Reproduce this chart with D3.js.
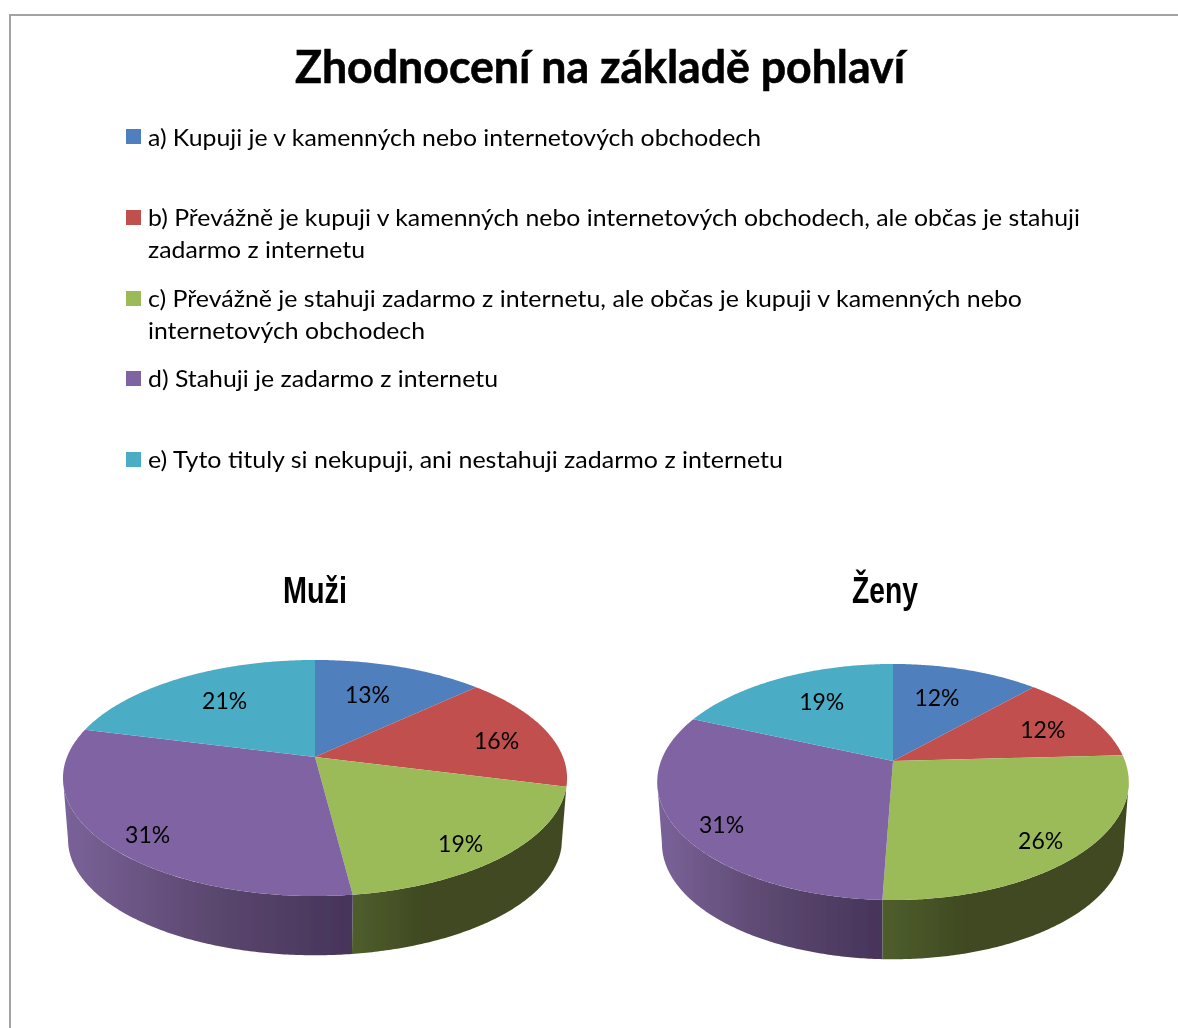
<!DOCTYPE html>
<html><head><meta charset="utf-8">
<script src="https://cdnjs.cloudflare.com/ajax/libs/d3/7.8.5/d3.min.js"></script>
<style>html,body{margin:0;padding:0;background:#fff;overflow:hidden}svg{display:block}text{fill:#000}</style>
</head><body><svg id="c" width="1178" height="1028"></svg>
<script>
const chartTitle = "Zhodnocení na základě pohlaví";
const categories = ["a","b","c","d","e"];
const legendLines = [
  ["a) Kupuji je v kamenných nebo internetových obchodech"],
  ["b) Převážně je kupuji v kamenných nebo internetových obchodech, ale občas je stahuji","zadarmo z internetu"],
  ["c) Převážně je stahuji zadarmo z internetu, ale občas je kupuji v kamenných nebo","internetových obchodech"],
  ["d) Stahuji je zadarmo z internetu"],
  ["e) Tyto tituly si nekupuji, ani nestahuji zadarmo z internetu"]
];
const pieTitles = ["Muži","Ženy"];
const muziValues = [13,16,19,31,21];
const zenyValues = [12,12.2,26.4,30.8,18.6];

const colors = ["#4f7fbc","#c0504d","#9bbb59","#8064a2","#4bacc6"];
const wallStops = [
  ["#2f4b70","#2f4b70"],["#6e2c2a","#6e2c2a"],
  ["#3f4a22","#3f4a22","#3f4a22","#4f5e2c"],
  ["#46345a","#5c4870","#7a6399"],
  ["#2a6272","#2a6272"]
];
const legendWidths = [[613],[932,217],[874,277],[350],[635]];
const legendBase = [[146],[226,258],[307,339],[387],[468]];
const swatchTop = [129,210,291,371,452];
const svg = d3.select("#c");
const defs = svg.append("defs");
defs.append("filter").attr("id","soft").append("feGaussianBlur").attr("stdDeviation",0.55);
defs.append("filter").attr("id","softT").append("feGaussianBlur").attr("stdDeviation",0.3);

// frame
svg.append("path").attr("d",d3.line()([[1178,15],[10,15],[10,1028]])).attr("fill","none").attr("stroke","#a3a3a3").attr("stroke-width",2);

const FONT = "Lato, 'Open Sans', sans-serif";
svg.append("text").text(chartTitle).attr("x",295).attr("y",83).attr("font-family",FONT)
  .attr("font-weight",700).attr("font-size",45).attr("textLength",610).attr("lengthAdjust","spacingAndGlyphs")
  .attr("stroke","#000").attr("stroke-width",0.6).attr("filter","url(#softT)");

const legend = svg.append("g");
categories.forEach((c,i)=>{
  legend.append("rect").attr("x",126).attr("y",swatchTop[i]).attr("width",15).attr("height",15).attr("fill",colors[i]);
  legendLines[i].forEach((line,j)=>{
    legend.append("text").text(line).attr("x",148).attr("y",legendBase[i][j]).attr("font-family",FONT)
      .attr("font-size",24).attr("textLength",legendWidths[i][j]).attr("lengthAdjust","spacingAndGlyphs").attr("filter","url(#softT)");
  });
});

// 3-D perspective pie built on d3.pie angles
const K = 0.178;
const SIDE = Math.acos(-K);               // angle where the rim is widest on screen
const pieGen = d3.pie().sort(null).startAngle(0).endAngle(2*Math.PI);
const lineGen = d3.line();
function drawPie(values, title, cfg, idx){
  const proj = (t,r=1,s=1,oy=0)=>{
    const u=Math.sin(t)*r, v=-Math.cos(t)*r, w=1-K*v;
    return [cfg.cx+cfg.A*s*u/w, cfg.cy+oy+cfg.B*s*v/w];
  };
  const rim = (a,b,s=1,oy=0)=>{
    const n=Math.max(2,Math.ceil((b-a)/0.01));
    return d3.range(n+1).map(i=>proj(a+(b-a)*i/n,1,s,oy));
  };
  const arcs = pieGen(values);
  const g = svg.append("g").attr("filter","url(#soft)");
  // walls – visible arc only, between the two widest rim points
  arcs.forEach((d,i)=>{
    const a=Math.max(d.startAngle,SIDE), b=Math.min(d.endAngle,2*Math.PI-SIDE);
    if(b<=a) return;
    const top=rim(a,b), bot=rim(a,b,cfg.S,cfg.depth);
    const xs=top.map(p=>p[0]).concat(bot.map(p=>p[0]));
    const id=`w${idx}_${i}`;
    const gr=defs.append("linearGradient").attr("id",id).attr("gradientUnits","userSpaceOnUse")
      .attr("x1",d3.min(xs)).attr("x2",d3.max(xs)).attr("y1",0).attr("y2",0);
    let stops=wallStops[i].slice().reverse();
    stops.forEach((c,k)=>gr.append("stop").attr("offset",k/(stops.length-1)).attr("stop-color",c));
    g.append("path").attr("d",lineGen(top.concat(bot.reverse()))+"Z").attr("fill",`url(#${id})`);
  });
  // top faces
  arcs.forEach((d,i)=>{
    g.append("path").attr("d",lineGen([[cfg.cx,cfg.cy]].concat(rim(d.startAngle,d.endAngle)))+"Z").attr("fill",colors[i]);
  });
  // labels
  arcs.forEach((d,i)=>{
    const mid=(d.startAngle+d.endAngle)/2, p=proj(mid,0.72);
    svg.append("text").text(Math.round(values[i])+"%")
      .attr("x",p[0]+cfg.nudge[i][0]).attr("y",p[1]+cfg.nudge[i][1]+8)
      .attr("text-anchor","middle").attr("font-family",FONT).attr("font-size",cfg.fs).attr("filter","url(#softT)");
  });
  svg.append("text").text(title).attr("x",cfg.tx).attr("y",603).attr("font-family","'Liberation Sans Narrow','Liberation Sans',sans-serif")
    .attr("font-weight",700).attr("font-size",36).attr("textLength",cfg.tw).attr("lengthAdjust","spacingAndGlyphs").attr("filter","url(#softT)");
}
drawPie(muziValues,pieTitles[0],{cx:315,cy:757,A:248,B:114.3,S:0.98,depth:62,fs:23,tx:283,tw:64,
  nudge:[[-11,6],[14,4],[15,19],[-21,19],[9,3]]},0);
drawPie(zenyValues,pieTitles[1],{cx:893,cy:761,A:232,B:114.3,S:0.98,depth:62,fs:23,tx:852,tw:66,
  nudge:[[-11,5],[6,2],[17,16],[-20,17],[12,3]]},1);
</script></body></html>
